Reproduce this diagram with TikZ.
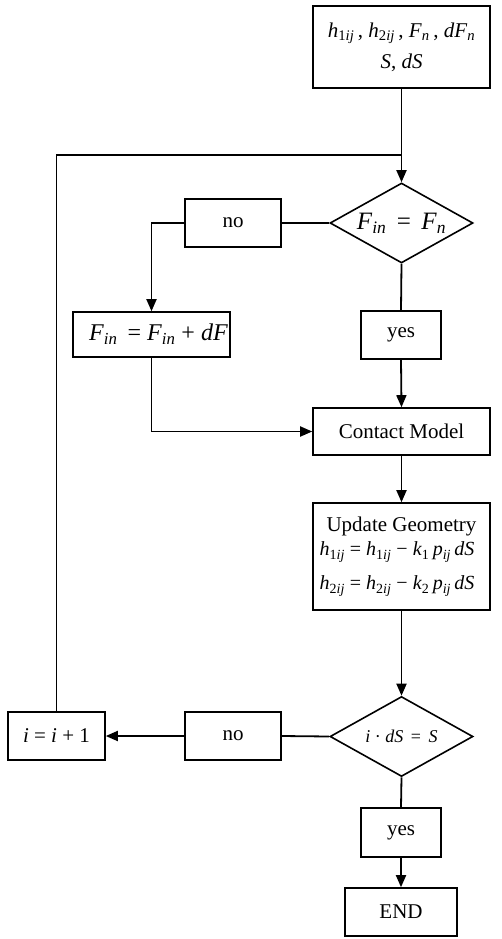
\documentclass[tikz,border=0pt]{standalone}
\usepackage{fontspec}
\setmainfont{Liberation Serif}
\usetikzlibrary{arrows.meta,shapes.geometric}
\newcommand\vi[1]{\textit{#1}}
\newcommand\sbs[1]{\textsubscript{#1}}
\newcommand\fs[1]{\fontsize{#1}{#1}\selectfont}
\tikzset{
  flow/.style={line width=1.8pt},
  arr/.style={flow,-{Triangle[length=12pt,width=10pt]}},
  boxnode/.style={draw,line width=1.6pt,inner sep=0pt,font=\fs{21}},
  decide/.style={draw,diamond,line width=1.6pt,inner sep=0pt,aspect=1.8,
                 minimum width=143pt,minimum height=80pt},
}
\begin{document}
\begin{tikzpicture}[x=1pt,y=-1pt]
\useasboundingbox (0,0) rectangle (501,939);

% process boxes
\node[boxnode,minimum width=177pt,minimum height=82pt,align=center] (inp) at (401.5,47)
  {\fs{21}\vi{h}\sbs{1\vi{ij}}\,, \vi{h}\sbs{2\vi{ij}}\,, \vi{F}\sbs{\vi{n}}\,, \vi{dF}\sbs{\vi{n}}\\[10pt]\fs{21}\vi{S}, \vi{dS}};
\node[decide,font=\fs{25}] (d1) at (401.5,223) {\vi{F}\sbs{\vi{in}}\, = \,\vi{F}\sbs{\vi{n}}};
\node[boxnode,minimum width=96pt,minimum height=48pt] (no1) at (233,223) {no};
\node[boxnode,minimum width=80pt,minimum height=48pt] (yes1) at (401,335) {yes};
\node[boxnode,minimum width=157pt,minimum height=45pt,font=\fs{24}] (fin) at (151.5,334.5)
  {\hspace{14pt}\vi{F}\sbs{\vi{in}}\, = \vi{F}\sbs{\vi{in}} + \vi{dF}};
\node[boxnode,minimum width=177pt,minimum height=47pt] (cm) at (401.5,431.5) {Contact Model};
\node[boxnode,minimum width=177pt,minimum height=107pt] (upd) at (401.5,556.5) {};
\node[font=\fs{21}] (updt) at (401.5,526) {Update Geometry};
\node[font=\fs{20}] (eqa) at (397,552)
  {\vi{h}\sbs{1\vi{ij}} = \vi{h}\sbs{1\vi{ij}} − \vi{k}\sbs{1}\,\vi{p}\sbs{\vi{ij}}\,\vi{dS}};
\node[font=\fs{20}] (eqb) at (397,586)
  {\vi{h}\sbs{2\vi{ij}} = \vi{h}\sbs{2\vi{ij}} − \vi{k}\sbs{2}\,\vi{p}\sbs{\vi{ij}}\,\vi{dS}};
\node[decide,font=\fs{18}] (d2) at (401.5,736.5) {\vi{i} · \vi{dS}\, = \,\vi{S}};
\node[boxnode,minimum width=96pt,minimum height=48pt] (no2) at (233,736) {no};
\node[boxnode,minimum width=97pt,minimum height=48pt] (ibox) at (56.5,736) {\vi{i} = \vi{i} + 1};
\node[boxnode,minimum width=80pt,minimum height=49pt] (yes2) at (401,832.5) {yes};
\node[boxnode,minimum width=112pt,minimum height=48pt] (fin2) at (401,912) {END};

\coordinate (join) at (401.5,155);

% connectors
\draw[arr] (inp.south) -- (d1.north);
\draw[flow] (ibox.north) |- (join);
\draw[flow] (d1.west) -- (no1.east);
\draw[arr] (no1.west) -| (fin.north);
\draw[flow] (d1.south) -- (yes1.north);
\draw[arr] (fin.south) |- (cm.west);
\draw[arr] (yes1.south) -- (cm.north);
\draw[arr] (cm.south) -- (upd.north);
\draw[arr] (upd.south) -- (d2.north);
\draw[flow] (d2.west) -- (no2.east);
\draw[arr] (no2.west) -- (ibox.east);
\draw[flow] (d2.south) -- (yes2.north);
\draw[arr] (yes2.south) -- (fin2.north);
\end{tikzpicture}
\end{document}
